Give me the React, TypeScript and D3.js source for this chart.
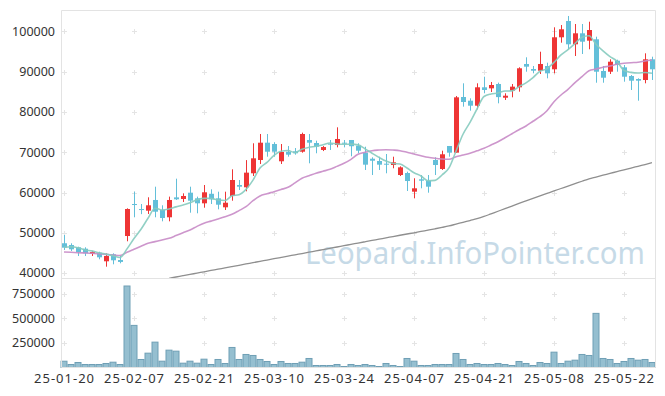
import { useEffect, useRef } from "react";
import * as d3 from "d3";

// trading days shown on the chart (yy-mm-dd)
const dates = [
  "25-01-20", "25-01-21", "25-01-22", "25-01-23", "25-01-24", "25-01-31", "25-02-03", "25-02-04", "25-02-05", "25-02-06",
  "25-02-07", "25-02-10", "25-02-11", "25-02-12", "25-02-13", "25-02-14", "25-02-17", "25-02-18", "25-02-19", "25-02-20",
  "25-02-21", "25-02-24", "25-02-25", "25-02-26", "25-02-27", "25-02-28", "25-03-04", "25-03-05", "25-03-06", "25-03-07",
  "25-03-10", "25-03-11", "25-03-12", "25-03-13", "25-03-14", "25-03-17", "25-03-18", "25-03-19", "25-03-20", "25-03-21",
  "25-03-24", "25-03-25", "25-03-26", "25-03-27", "25-03-28", "25-03-31", "25-04-01", "25-04-02", "25-04-03", "25-04-04",
  "25-04-07", "25-04-08", "25-04-09", "25-04-10", "25-04-11", "25-04-14", "25-04-15", "25-04-16", "25-04-17", "25-04-18",
  "25-04-21", "25-04-22", "25-04-23", "25-04-24", "25-04-25", "25-04-28", "25-04-29", "25-04-30", "25-05-02", "25-05-07",
  "25-05-08", "25-05-09", "25-05-12", "25-05-13", "25-05-14", "25-05-15", "25-05-16", "25-05-19", "25-05-20", "25-05-21",
  "25-05-22", "25-05-23", "25-05-26", "25-05-27", "25-05-28",
];

const opens = [
  47400, 46970, 46400, 46050, 44730, 45050, 42920, 44660, 43240, 49200,
  57150, 55900, 55490, 58150, 55660, 53850, 58800, 58400, 59960, 58560,
  57320, 59690, 58560, 56330, 59140, 61870, 61300, 64780, 68080, 72380,
  72050, 67760, 70140, 70240, 70140, 73050, 72300, 70570, 72130, 71800,
  72380, 73050, 71630, 69900, 68400, 67830, 67160, 66840, 64350, 64850,
  60210, 63290, 62940, 68080, 65850, 71560, 69900, 83730, 82810, 81570,
  86140, 85880, 86960, 83550, 85300, 86140, 91930, 90680, 90260, 91430,
  90610, 98560, 102600, 96820, 99550, 97720, 98060, 90190, 90010, 92750,
  91100, 88940, 88200, 87950, 93090,
];

const highs = [
  49450, 47390, 46550, 46400, 45480, 45300, 44900, 44900, 44230, 56080,
  60210, 57150, 58820, 61450, 56830, 58980, 63440, 59800, 61450, 58980,
  61870, 60800, 60210, 60210, 65770, 63110, 68050, 72230, 74540, 74540,
  72500, 72050, 71550, 71050, 74870, 74540, 72880, 71550, 73050, 76200,
  73050, 73050, 72230, 71380, 68750, 68900, 69570, 68900, 66500, 65180,
  63540, 64350, 64350, 68750, 70390, 71560, 83980, 87130, 83400, 87130,
  88770, 87460, 87300, 84650, 86960, 91110, 93590, 91430, 94980, 92250,
  101040, 101610, 103850, 101860, 101860, 102430, 98710, 91430, 93090, 93000,
  91680, 89190, 88370, 94580, 93740,
];

const lows = [
  45730, 45480, 44230, 44230, 44230, 43420, 41580, 42170, 42420, 47890,
  53850, 54630, 54670, 53850, 52850, 52850, 58150, 57650, 54990, 54840,
  56230, 57150, 55830, 55660, 57970, 60630, 60300, 64110, 67090, 68900,
  68900, 67090, 68900, 69400, 69900, 67260, 69750, 70300, 70570, 71220,
  71220, 69000, 69750, 65600, 64350, 65600, 64780, 66020, 64100, 60380,
  58560, 61050, 59960, 64350, 65600, 68900, 69900, 81330, 80330, 80670,
  84650, 84970, 82160, 82990, 83650, 85050, 90010, 89610, 89440, 88370,
  89610, 97220, 95580, 93910, 94410, 95580, 87280, 87280, 89440, 90010,
  87530, 85470, 82810, 87130, 87950,
];

const closes = [
  46300, 45900, 45230, 44900, 45230, 43910, 44230, 43170, 42760, 55910,
  56900, 55650, 56830, 55240, 53670, 58150, 58320, 59140, 57970, 57320,
  60060, 58320, 56980, 57470, 63110, 61450, 64940, 68500, 72380, 70140,
  70140, 70070, 69400, 69750, 74540, 72380, 71380, 71300, 71880, 73300,
  72130, 71500, 70390, 66920, 67900, 66920, 66920, 67510, 66260, 62860,
  61050, 62940, 61450, 66840, 69500, 69900, 83650, 82490, 81570, 86140,
  85470, 86710, 83700, 84050, 86300, 90860, 91260, 90260, 91930, 89610,
  98560, 100550, 96820, 99550, 97470, 100370, 90010, 88520, 92500, 91680,
  88770, 87780, 87780, 93090, 90610,
];

const volumes = [
  64000, 30600, 51000, 30600, 30600, 30600, 40800, 54000, 30600, 829600,
  428600, 81600, 145900, 258200, 64300, 176500, 166300, 43900, 64300, 43900,
  84700, 30600, 81600, 40800, 204000, 81600, 132600, 122400, 81600, 61200,
  30600, 61200, 40800, 40800, 54000, 91800, 20400, 20400, 20400, 30600,
  10200, 30600, 20400, 30600, 20400, 10200, 40800, 20400, 10200, 91800,
  64300, 20400, 20400, 30600, 30600, 30600, 142800, 81600, 30600, 40800,
  30600, 30600, 40800, 30600, 20400, 61200, 40800, 20400, 51000, 40800,
  156100, 40800, 64300, 74500, 132600, 122400, 551000, 91800, 81600, 40800,
  61200, 91800, 74500, 81600, 51000,
];

// moving averages as drawn (5, 20, 60 days)
const ma5 = [
  46400, 46550, 46300, 45730, 45510, 45030, 44700, 44290, 43860, 46000,
  48590, 50880, 53610, 56110, 55660, 55910, 56440, 56900, 57450, 58180,
  58560, 58560, 58130, 58030, 59190, 59470, 60790, 63090, 66080, 67480,
  69220, 70250, 70430, 69900, 70780, 71230, 71490, 71870, 72300, 72050,
  72000, 72020, 71840, 70850, 69770, 68730, 67810, 67230, 67100, 66090,
  64920, 64120, 62910, 63030, 64360, 66130, 70270, 74480, 77420, 80750,
  83860, 84480, 84720, 85210, 85250, 86320, 87230, 88550, 90120, 90780,
  92320, 94180, 95490, 97020, 98590, 98950, 96840, 95180, 93770, 92620,
  90300, 89850, 89700, 89820, 89610,
];

const ma20 = [
  45230, 45150, 45050, 44980, 44900, 44780, 44650, 44500, 44350, 45150,
  45900, 46650, 47390, 47800, 48200, 48630, 49300, 50000, 50690, 51600,
  52400, 52900, 53420, 54000, 54590, 55500, 56480, 57970, 59140, 59700,
  60210, 60750, 61300, 62400, 63540, 64150, 64780, 65280, 65770, 66500,
  67260, 68250, 69500, 70000, 70390, 70550, 70640, 70550, 70390, 70000,
  69570, 69150, 68750, 68500, 68330, 68250, 68900, 69300, 69750, 70350,
  70980, 71800, 72630, 73600, 74600, 75600, 76540, 77700, 78850, 80330,
  82570, 84230, 85640, 87280, 88770, 90260, 90680, 91110, 91430, 91850,
  92100, 92250, 92350, 92670, 92920,
];

// 60-day average only enters the visible range mid-February
const ma60 = [
  null, null, null, null, null, null, null, null, null, null,
  null, null, null, null, null, 38700, 39020, 39340, 39660, 39990,
  40310, 40640, 40960, 41290, 41610, 41930, 42260, 42580, 42910, 43230,
  43560, 43880, 44200, 44530, 44850, 45180, 45500, 45830, 46150, 46470,
  46800, 47120, 47450, 47770, 48090, 48420, 48740, 49070, 49390, 49700,
  50000, 50330, 50660, 50990, 51330, 51700, 52150, 52600, 53050, 53500,
  54050, 54700, 55350, 56000, 56650, 57300, 57920, 58540, 59160, 59780,
  60400, 61000, 61600, 62200, 62800, 63400, 63850, 64300, 64750, 65200,
  65650, 66080, 66520, 66960, 67400,
];

const priceTicks = [40000, 50000, 60000, 70000, 80000, 90000, 100000];
const volumeTicks = [250000, 500000, 750000];
const dateTicks = ["25-01-20", "25-02-07", "25-02-21", "25-03-10", "25-03-24", "25-04-07", "25-04-21", "25-05-08", "25-05-22"];

export default function App() {
  const svgRef = useRef<SVGSVGElement>(null);

  useEffect(() => {
    drawChart();
  }, []);

  const drawChart = () => {
    const svg = d3.select(svgRef.current);
    svg.selectAll("*").remove();

    const left = 61.5;
    const right = 655.5;
    const top = 10.5;
    const split = 278.5;
    const bottom = 367.5;
    const font = "'Noto Sans', 'DejaVu Sans', sans-serif";

    const x = d3.scaleBand<string>().domain(dates).range([60.5, 655.5]);
    const y = d3.scaleLinear().domain([38770, 105340]).range([278, 10]);
    const yVol = d3.scaleLinear().domain([0, 911000]).range([bottom, 278]);
    const cx = (d: string) => (x(d) as number) + x.bandwidth() / 2;

    svg
      .append("clipPath")
      .attr("id", "main-clip")
      .append("rect")
      .attr("x", left)
      .attr("y", top)
      .attr("width", right - left)
      .attr("height", split - top);

    // grid crosses
    const crossAt = (px: number, py: number) => {
      svg
        .append("path")
        .attr("d", `M${px - 2.5},${py}H${px + 2.5}M${px},${py - 2.5}V${py + 2.5}`)
        .attr("stroke", "#e4e4e4")
        .attr("stroke-width", 1);
    };
    dateTicks.forEach((d) => {
      priceTicks.forEach((p) => crossAt(Math.round(cx(d)) + 0.5, Math.round(y(p)) + 0.5));
      volumeTicks.forEach((v) => crossAt(Math.round(cx(d)) + 0.5, Math.round(yVol(v)) + 0.5));
    });

    // watermark
    svg
      .append("text")
      .attr("x", 475)
      .attr("y", 263.5)
      .attr("text-anchor", "middle")
      .attr("font-family", font)
      .attr("font-size", 31)
      .attr("fill", "#c6dae7")
      .attr("textLength", 340)
      .attr("lengthAdjust", "spacingAndGlyphs")
      .text("Leopard.InfoPointer.com");

    // volume bars
    svg
      .selectAll(".vol")
      .data(volumes)
      .enter()
      .append("rect")
      .attr("class", "vol")
      .attr("x", (_, i) => (x(dates[i]) as number) + 0.5)
      .attr("y", (d) => yVol(d))
      .attr("width", x.bandwidth() - 1)
      .attr("height", (d) => bottom - yVol(d))
      .attr("fill", "#95bfd0")
      .attr("stroke", "#6f9fb5")
      .attr("stroke-width", 1);

    // candles
    const candles = svg.append("g").attr("clip-path", "url(#main-clip)");
    dates.forEach((d, i) => {
      const up = closes[i] >= opens[i];
      const color = up ? "#ee3535" : "#63bfd9";
      const mid = Math.round(cx(d)) + 0.5;
      candles
        .append("line")
        .attr("x1", mid)
        .attr("x2", mid)
        .attr("y1", y(highs[i]))
        .attr("y2", y(lows[i]))
        .attr("stroke", color)
        .attr("stroke-width", 1);
      const yTop = y(Math.max(opens[i], closes[i]));
      const yBot = y(Math.min(opens[i], closes[i]));
      candles
        .append("rect")
        .attr("x", mid - 2.5)
        .attr("y", yTop)
        .attr("width", 5)
        .attr("height", Math.max(1, yBot - yTop))
        .attr("fill", color);
    });

    // moving average lines
    const maLine = (values: (number | null)[], color: string, width: number, opacity: number) => {
      const line = d3
        .line<number | null>()
        .defined((v) => v !== null)
        .x((_, i) => cx(dates[i]))
        .y((v) => y(v as number))
        .curve(d3.curveMonotoneX);
      svg
        .append("path")
        .attr("clip-path", "url(#main-clip)")
        .attr("d", line(values))
        .attr("fill", "none")
        .attr("stroke", color)
        .attr("stroke-width", width)
        .attr("opacity", opacity);
    };
    maLine(ma60, "#8f8f8f", 1.3, 1);
    maLine(ma20, "#c88bc6", 1.6, 0.9);
    maLine(ma5, "#86cbbf", 1.6, 0.9);

    // frame
    const border = "#e3e3e3";
    svg.append("line").attr("x1", left).attr("x2", left).attr("y1", top).attr("y2", bottom).attr("stroke", border);
    svg.append("line").attr("x1", right).attr("x2", right).attr("y1", top).attr("y2", bottom).attr("stroke", border);
    svg.append("line").attr("x1", left).attr("x2", right).attr("y1", top).attr("y2", top).attr("stroke", border);
    svg.append("line").attr("x1", left).attr("x2", right).attr("y1", split).attr("y2", split).attr("stroke", border);
    svg.append("line").attr("x1", left).attr("x2", right).attr("y1", bottom).attr("y2", bottom).attr("stroke", border);

    // axis labels
    svg
      .selectAll(".ptick")
      .data(priceTicks)
      .enter()
      .append("text")
      .attr("x", 55)
      .attr("y", (d) => y(d))
      .attr("dy", "0.35em")
      .attr("text-anchor", "end")
      .attr("font-family", font)
      .attr("font-size", 12.5)
      .attr("fill", "#333")
      .text((d) => String(d));

    svg
      .selectAll(".vtick")
      .data(volumeTicks)
      .enter()
      .append("text")
      .attr("x", 55)
      .attr("y", (d) => yVol(d))
      .attr("dy", "0.35em")
      .attr("text-anchor", "end")
      .attr("font-family", font)
      .attr("font-size", 12.5)
      .attr("fill", "#333")
      .text((d) => String(d));

    svg
      .selectAll(".dtick")
      .data(dateTicks)
      .enter()
      .append("text")
      .attr("x", (d) => cx(d))
      .attr("y", 382.5)
      .attr("text-anchor", "middle")
      .attr("font-family", font)
      .attr("font-size", 13)
      .attr("fill", "#333")
      .attr("textLength", 60)
      .attr("lengthAdjust", "spacing")
      .text((d) => d);
  };

  return (
    <svg
      ref={svgRef}
      width={665}
      height={396}
      style={{ position: "absolute", left: 0, top: 0, background: "#fff" }}
    />
  );
}
